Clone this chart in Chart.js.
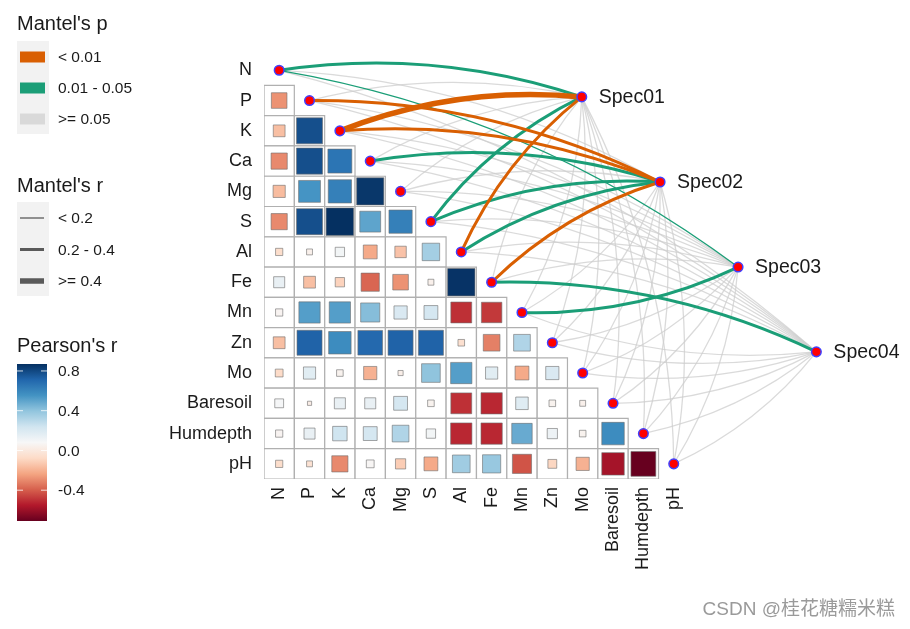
<!DOCTYPE html>
<html lang="en">
<head>
  <meta charset="UTF-8">
  <title>Mantel test</title>
  <script src="https://cdn.jsdelivr.net/npm/chart.js"></script>
  <style>
    body { margin: 0; background: #fff; }
    #wrap { width: 910px; height: 629px; }
  </style>
</head>
<body>
  <div id="wrap"><canvas id="chartMantel" width="910" height="629"></canvas></div>
  <script>
    // ---- data ----
    const envVars = ['N', 'P', 'K', 'Ca', 'Mg', 'S', 'Al', 'Fe', 'Mn', 'Zn', 'Mo', 'Baresoil', 'Humdepth', 'pH'];
    const specNames = ['Spec01', 'Spec02', 'Spec03', 'Spec04'];
    const specX = [9.97, 12.55, 15.12, 17.70];
    const specY = [0.88, 3.69, 6.50, 9.30];

    // Pearson's r, lower triangle: row i holds columns 0..i-1
    const corrRows = [
      [],
      [-0.28],
      [-0.16, 0.78],
      [-0.30, 0.78, 0.66],
      [-0.17, 0.55, 0.62, 0.85],
      [-0.30, 0.78, 0.87, 0.50, 0.62],
      [-0.06, 0.04, 0.10, -0.22, -0.15, 0.35],
      [0.14, -0.16, -0.10, -0.38, -0.28, 0.04, 0.86],
      [0.06, 0.52, 0.52, 0.42, 0.20, 0.22, -0.50, -0.48],
      [-0.16, 0.72, 0.58, 0.70, 0.72, 0.72, -0.05, -0.32, 0.32],
      [-0.07, 0.17, 0.05, -0.20, 0.03, 0.40, 0.52, 0.17, -0.22, 0.20],
      [0.09, 0.02, 0.14, 0.14, 0.22, 0.05, -0.50, -0.52, 0.18, 0.05, 0.04],
      [0.06, 0.14, 0.24, 0.22, 0.32, 0.10, -0.52, -0.52, 0.48, 0.12, 0.05, 0.58],
      [-0.06, -0.04, -0.30, 0.07, -0.12, -0.22, 0.36, 0.38, -0.42, -0.09, -0.20, -0.58, -0.71]
    ];

    // Mantel's p class per spec (0: <0.01, 1: 0.01-0.05, 2: >=0.05), env order as envVars
    const mantelP = [
      [1, 2, 0, 2, 2, 1, 0, 2, 2, 2, 2, 2, 2, 2],
      [2, 0, 0, 1, 2, 1, 1, 0, 2, 2, 2, 2, 2, 2],
      [1, 2, 2, 2, 2, 2, 2, 2, 1, 2, 2, 2, 2, 2],
      [2, 2, 2, 2, 2, 2, 2, 1, 2, 2, 2, 2, 2, 2]
    ];
    // Mantel's r class (0: <0.2, 1: 0.2-0.4, 2: >=0.4)
    const mantelR = [
      [1, 0, 2, 0, 0, 1, 1, 0, 0, 0, 0, 0, 0, 0],
      [0, 1, 1, 1, 0, 1, 1, 1, 0, 0, 0, 0, 0, 0],
      [0, 0, 0, 0, 0, 0, 0, 0, 1, 0, 0, 0, 0, 0],
      [0, 0, 0, 0, 0, 0, 0, 1, 0, 0, 0, 0, 0, 0]
    ];

    const pLabels = ['< 0.01', '0.01 - 0.05', '>= 0.05'];
    const rLabels = ['< 0.2', '0.2 - 0.4', '>= 0.4'];
    const colorTicks = [0.8, 0.4, 0.0, -0.4];

    // ---- styles ----
    const pColors = ['#D95F02', '#1B9E77', 'rgba(205,205,205,0.75)'];
    const pKeyColors = ['#D95F02', '#1B9E77', '#D9D9D9'];
    const rWidths = [1.3, 3, 5.5];
    const rdbu = ['#67001F', '#B2182B', '#D6604D', '#F4A582', '#FDDBC7', '#F7F7F7',
                  '#D1E5F0', '#92C5DE', '#4393C3', '#2166AC', '#053061'];
    const FONT = "'Liberation Sans', Arial, sans-serif";
    const CELL = 30.28;
    const CURVE = 0.12;

    const allR = corrRows.flat();
    const rMin = Math.min(...allR), rMax = Math.max(...allR);

    function hexRgb(h) {
      return [parseInt(h.slice(1, 3), 16), parseInt(h.slice(3, 5), 16), parseInt(h.slice(5, 7), 16)];
    }
    function fillFor(r) {
      const t = Math.max(0, Math.min(1, (r - rMin) / (rMax - rMin))) * (rdbu.length - 1);
      const k = Math.min(Math.floor(t), rdbu.length - 2), f = t - k;
      const a = hexRgb(rdbu[k]), b = hexRgb(rdbu[k + 1]);
      return 'rgb(' + a.map((v, n) => Math.round(v + (b[n] - v) * f)).join(',') + ')';
    }

    // ---- datasets ----
    const cells = [], squares = [], squareSize = [], squareFill = [];
    corrRows.forEach((row, i) => {
      row.forEach((r, j) => {
        cells.push({ x: j, y: i });
        squares.push({ x: j, y: i });
        squareSize.push(29.5 * Math.sqrt(Math.abs(r)) / Math.SQRT2);
        squareFill.push(fillFor(r));
      });
    });
    const nodes = envVars.map((_, i) => ({ x: i, y: i }))
      .concat(specNames.map((_, k) => ({ x: specX[k], y: specY[k] })));

    const linkPlugin = {
      id: 'mantelLinks',
      beforeDatasetDraw(chart, args) {
        if (args.index !== 2) return;
        const { ctx, scales: { x, y } } = chart;
        const links = [];
        specNames.forEach((s, k) => envVars.forEach((e, i) => links.push({ k, i, p: mantelP[k][i], r: mantelR[k][i] })));
        links.sort((a, b) => b.p - a.p);
        ctx.save();
        ctx.lineCap = 'butt';
        links.forEach(l => {
          const ax = x.getPixelForValue(l.i), ay = y.getPixelForValue(l.i);
          const bx = x.getPixelForValue(specX[l.k]), by = y.getPixelForValue(specY[l.k]);
          const dx = bx - ax, dy = by - ay, len = Math.hypot(dx, dy);
          const off = CURVE * len * (l.i <= 7 ? 1 : -1);
          const cx = (ax + bx) / 2 + dy / len * off, cy = (ay + by) / 2 - dx / len * off;
          ctx.beginPath();
          ctx.moveTo(ax, ay);
          ctx.quadraticCurveTo(cx, cy, bx, by);
          ctx.strokeStyle = pColors[l.p];
          ctx.lineWidth = rWidths[l.r];
          ctx.stroke();
        });
        ctx.restore();
      }
    };

    const labelPlugin = {
      id: 'specLabels',
      afterDatasetsDraw(chart) {
        const { ctx, scales: { x, y } } = chart;
        ctx.save();
        ctx.font = '19.5px ' + FONT;
        ctx.fillStyle = '#1a1a1a';
        ctx.textAlign = 'left';
        ctx.textBaseline = 'middle';
        specNames.forEach((s, k) => ctx.fillText(s, x.getPixelForValue(specX[k]) + 17, y.getPixelForValue(specY[k]) + 1));
        ctx.restore();
      }
    };

    const legendPlugin = {
      id: 'sideLegends',
      afterDraw(chart) {
        const ctx = chart.ctx;
        ctx.save();
        ctx.textBaseline = 'middle';
        ctx.textAlign = 'left';
        // Mantel's p
        ctx.fillStyle = '#1a1a1a';
        ctx.font = '20px ' + FONT;
        ctx.fillText("Mantel's p", 17, 24);
        ctx.fillStyle = '#F2F2F2';
        ctx.fillRect(17, 41, 32, 93);
        pLabels.forEach((lab, n) => {
          const cy = 57 + n * 31;
          ctx.fillStyle = pKeyColors[n];
          ctx.fillRect(20, cy - 5.5, 25, 11);
          ctx.fillStyle = '#1a1a1a';
          ctx.font = '15.5px ' + FONT;
          ctx.fillText(lab, 58, cy + 1);
        });
        // Mantel's r
        ctx.font = '20px ' + FONT;
        ctx.fillText("Mantel's r", 17, 186);
        ctx.fillStyle = '#F2F2F2';
        ctx.fillRect(17, 202, 32, 94);
        rLabels.forEach((lab, n) => {
          const cy = 218 + n * 31.5;
          ctx.strokeStyle = '#5a5a5a';
          ctx.lineWidth = rWidths[n];
          ctx.beginPath();
          ctx.moveTo(20, cy);
          ctx.lineTo(44, cy);
          ctx.stroke();
          ctx.fillStyle = '#1a1a1a';
          ctx.font = '15.5px ' + FONT;
          ctx.fillText(lab, 58, cy + 1);
        });
        // Pearson's r colorbar
        ctx.font = '20px ' + FONT;
        ctx.fillText("Pearson's r", 17, 346);
        const top = 364, bot = 521, bx = 17, bw = 30;
        const grad = ctx.createLinearGradient(0, bot, 0, top);
        rdbu.forEach((c, n) => grad.addColorStop(n / (rdbu.length - 1), c));
        ctx.fillStyle = grad;
        ctx.fillRect(bx, top, bw, bot - top);
        ctx.font = '15.5px ' + FONT;
        colorTicks.forEach(v => {
          const ty = bot - (v - rMin) / (rMax - rMin) * (bot - top);
          ctx.strokeStyle = 'rgba(255,255,255,0.8)';
          ctx.lineWidth = 1;
          ctx.beginPath();
          ctx.moveTo(bx, ty); ctx.lineTo(bx + 6, ty);
          ctx.moveTo(bx + bw - 6, ty); ctx.lineTo(bx + bw, ty);
          ctx.stroke();
          ctx.fillStyle = '#1a1a1a';
          ctx.fillText(v.toFixed(1), 58, ty + 1);
        });
        // watermark
        ctx.textAlign = 'right';
        ctx.fillStyle = '#9a9a9a';
        ctx.font = "19px 'Liberation Sans', 'Noto Sans CJK SC', sans-serif";
        ctx.fillText('CSDN @桂花糖糯米糕', 895, 610);
        ctx.restore();
      }
    };

    Chart.defaults.font.family = FONT;
    const ctx = document.getElementById('chartMantel').getContext('2d');
    new Chart(ctx, {
      type: 'scatter',
      data: {
        datasets: [
          {
            data: cells,
            order: 3,
            pointStyle: 'rect',
            pointRadius: CELL / Math.SQRT2,
            backgroundColor: '#ffffff',
            borderColor: '#b0b0b0',
            borderWidth: 1.2
          },
          {
            data: squares,
            order: 2,
            pointStyle: 'rect',
            pointRadius: squareSize,
            backgroundColor: squareFill,
            borderColor: 'rgba(110,110,110,0.6)',
            borderWidth: 1
          },
          {
            data: nodes,
            order: 1,
            pointStyle: 'circle',
            pointRadius: 4.8,
            backgroundColor: '#FF0000',
            borderColor: '#4040FF',
            borderWidth: 1.5
          }
        ]
      },
      options: {
        responsive: false,
        animation: false,
        events: [],
        layout: { padding: { left: 0, top: 40, right: 10, bottom: 0 } },
        plugins: { legend: { display: false }, tooltip: { enabled: false } },
        scales: {
          x: {
            type: 'linear', min: -0.5, max: 20.04,
            grid: { display: false, drawTicks: false },
            border: { display: false },
            afterBuildTicks: s => { s.ticks = envVars.map((_, i) => ({ value: i })); },
            afterFit: s => { s.height = 150; s.paddingLeft = 0; s.paddingRight = 0; },
            ticks: {
              autoSkip: false, minRotation: 90, maxRotation: 90, padding: 8,
              color: '#1a1a1a', font: { size: 18 },
              callback: v => envVars[v]
            }
          },
          y: {
            type: 'linear', reverse: true, min: -1, max: 13.5,
            grid: { display: false, drawTicks: false },
            border: { display: false },
            afterBuildTicks: s => { s.ticks = envVars.map((_, i) => ({ value: i })); },
            afterFit: s => { s.width = 264; s.paddingTop = 0; s.paddingBottom = 0; },
            ticks: {
              autoSkip: false, padding: 12,
              color: '#1a1a1a', font: { size: 18 },
              callback: v => envVars[v]
            }
          }
        }
      },
      plugins: [linkPlugin, labelPlugin, legendPlugin]
    });
  </script>
</body>
</html>
